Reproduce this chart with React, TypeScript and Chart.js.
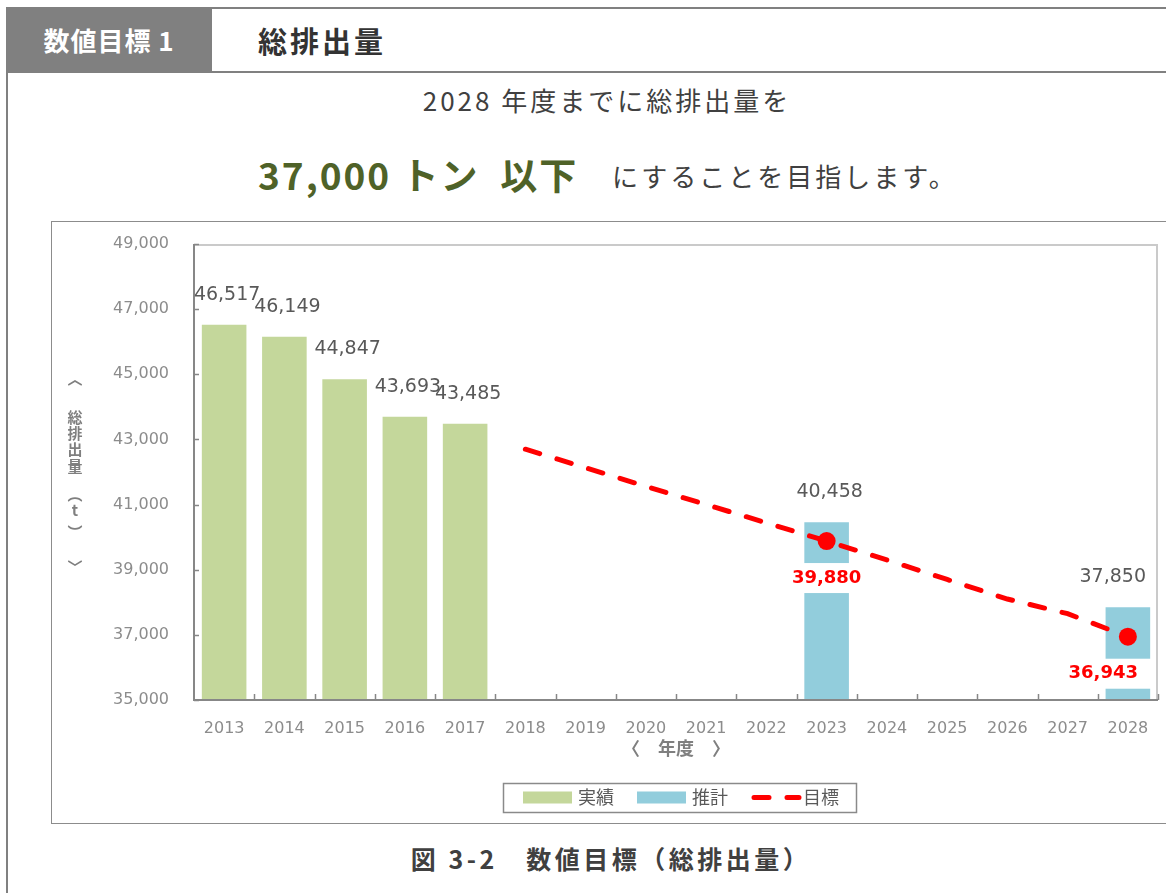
import React, { useEffect, useRef } from "react";
import { Chart, registerables } from "chart.js";

Chart.register(...registerables);

// ---- data ----
const YEARS = ["2013", "2014", "2015", "2016", "2017", "2018", "2019", "2020", "2021", "2022", "2023", "2024", "2025", "2026", "2027", "2028"];
const ACTUAL = [46517, 46149, 44847, 43693, 43485, null, null, null, null, null, null, null, null, null, null, null];
const ESTIMATE = [null, null, null, null, null, null, null, null, null, null, 40458, null, null, null, null, 37850];
const TARGET = [null, null, null, null, null, 42700, 42130, 41560, 41000, 40440, 39880, 39300, 38700, 38100, 37650, 36943];
const TARGET_MARKED_YEARS = ["2023", "2028"];
const SERIES_NAMES = ["実績", "推計", "目標"];
const Y_MIN = 35000;
const Y_MAX = 49000;
const Y_STEP = 2000;
const X_TITLE = "〈　年度　〉";
const Y_TITLE_CHARS = ["︿", "総", "排", "出", "量", "︵", "t", "︶", "﹀"];

const GREEN = "#c4d79b";
const BLUE = "#92cddc";
const RED = "#ff0000";
const AXIS_GRAY = "#8c8c8c";
const LABEL_GRAY = "#595959";
const NUM_FONT = '"DejaVu Sans", Verdana, sans-serif';
const JP_FONT = '"Noto Sans CJK JP", "Noto Sans", sans-serif';

const fmt = (v: number) => v.toLocaleString("en-US");

const decorPlugin = {
  id: "decor",
  beforeDatasetsDraw(chart: any) {
    const { ctx, chartArea: a } = chart;
    ctx.save();
    ctx.strokeStyle = "#cacaca";
    ctx.lineWidth = 2;
    ctx.beginPath();
    ctx.moveTo(a.left, a.top + 1);
    ctx.lineTo(a.right - 1, a.top + 1);
    ctx.lineTo(a.right - 1, a.bottom);
    ctx.stroke();
    ctx.restore();
  },
  afterDatasetsDraw(chart: any) {
    const { ctx, chartArea: a, scales } = chart;
    const x = scales.x;
    const y = scales.y;
    ctx.save();
    // axis lines
    ctx.strokeStyle = "#878787";
    ctx.lineWidth = 2;
    ctx.beginPath();
    ctx.moveTo(a.left, a.top);
    ctx.lineTo(a.left, a.bottom);
    ctx.lineTo(a.right, a.bottom);
    ctx.stroke();
    // inner tick marks
    ctx.lineWidth = 1.5;
    for (let v = Y_MIN; v <= Y_MAX; v += Y_STEP) {
      const py = Math.round(y.getPixelForValue(v)) + 0.5;
      ctx.beginPath();
      ctx.moveTo(a.left, py);
      ctx.lineTo(a.left + 5, py);
      ctx.stroke();
    }
    const w = (a.right - a.left) / YEARS.length;
    for (let i = 1; i <= YEARS.length; i++) {
      const px = Math.round(x.getPixelForValue(i - 1) + w / 2) + 0.5;
      ctx.beginPath();
      ctx.moveTo(px, a.bottom);
      ctx.lineTo(px, a.bottom - 6);
      ctx.stroke();
    }

    // value labels for bars
    ctx.font = `19px ${NUM_FONT}`;
    ctx.fillStyle = LABEL_GRAY;
    ctx.textAlign = "center";
    ctx.textBaseline = "middle";
    [1, 2].forEach((di) => {
      const meta = chart.getDatasetMeta(di);
      const data = chart.data.datasets[di].data;
      meta.data.forEach((el: any, i: number) => {
        const v = data[i];
        if (v == null) return;
        const t = fmt(v);
        const tw = ctx.measureText(t).width;
        const cx = Math.min(el.x + 3, a.right - tw / 2 - 12);
        ctx.fillText(t, cx, el.y - 30);
      });
    });

    // target labels (red, white backdrop)
    const lineMeta = chart.getDatasetMeta(0);
    const estMeta = chart.getDatasetMeta(2);
    ctx.font = `bold 18px ${NUM_FONT}`;
    lineMeta.data.forEach((el: any, i: number) => {
      if (!TARGET_MARKED_YEARS.includes(YEARS[i])) return;
      const v = TARGET[i];
      if (v == null) return;
      const t = fmt(v);
      const tw = ctx.measureText(t).width;
      const cx = Math.min(el.x, a.right - tw / 2 - 20);
      const cy = el.y + 37;
      const bar = estMeta.data[i];
      let l = cx - tw / 2 - 3;
      let r = cx + tw / 2 + 3;
      if (bar) {
        l = Math.min(l, bar.x - bar.width / 2 - 1);
        r = Math.max(r, bar.x + bar.width / 2 + 1);
      }
      ctx.fillStyle = "#ffffff";
      ctx.fillRect(l, cy - 15, r - l, 30);
      ctx.fillStyle = RED;
      ctx.fillText(t, cx, cy);
    });
    ctx.restore();
  },
  afterDraw(chart: any) {
    const { ctx, chartArea: a } = chart;
    ctx.save();
    // x axis title
    ctx.fillStyle = "#7f7f7f";
    ctx.font = `bold 18px ${JP_FONT}`;
    ctx.textAlign = "center";
    ctx.textBaseline = "middle";
    ctx.fillText(X_TITLE, (a.left + a.right) / 2, a.bottom + 48);

    // y axis title (vertical)
    const cyMid = (a.top + a.bottom) / 2;
    const offs = [-94, -55, -39, -23, -6, 22, 38, 60, 95];
    ctx.font = `bold 15px ${JP_FONT}`;
    Y_TITLE_CHARS.forEach((c, i) => {
      ctx.fillText(c, 23, cyMid + offs[i]);
    });

    // legend
    const bx = 451, by = 561, bw = 353, bh = 29;
    ctx.strokeStyle = "#8a8a8a";
    ctx.lineWidth = 1.5;
    ctx.strokeRect(bx + 0.5, by + 0.5, bw, bh);
    ctx.font = `18px ${JP_FONT}`;
    ctx.textAlign = "left";
    ctx.fillStyle = LABEL_GRAY;
    const my = by + bh / 2;
    let cx = bx + 20;
    const ds = chart.data.datasets;
    [1, 2, 0].forEach((di) => {
      const d = ds[di];
      if (d.type === "line") {
        ctx.strokeStyle = d.borderColor;
        ctx.lineWidth = 5;
        ctx.lineCap = "round";
        ctx.setLineDash([15, 18]);
        ctx.beginPath();
        ctx.moveTo(cx + 3, my);
        ctx.lineTo(cx + 48, my);
        ctx.stroke();
        ctx.setLineDash([]);
        cx += 52;
      } else {
        ctx.fillStyle = d.backgroundColor;
        ctx.fillRect(cx, my - 6, 49, 12);
        cx += 55;
      }
      ctx.fillStyle = LABEL_GRAY;
      ctx.fillText(d.label, cx, my);
      cx += ctx.measureText(d.label).width + 23;
    });
    ctx.restore();
  },
};

function ChartBox() {
  const ref = useRef<HTMLCanvasElement | null>(null);
  useEffect(() => {
    if (!ref.current) return;
    const chart = new Chart(ref.current, {
      type: "bar",
      data: {
        labels: YEARS,
        datasets: [
          {
            type: "line",
            label: SERIES_NAMES[2],
            data: TARGET,
            borderColor: RED,
            backgroundColor: RED,
            borderWidth: 5,
            borderDash: [15, 18],
            borderCapStyle: "round",
            tension: 0,
            pointRadius: (c: any) => (TARGET_MARKED_YEARS.includes(YEARS[c.dataIndex]) ? 9 : 0),
            pointBackgroundColor: RED,
            pointBorderWidth: 0,
            order: 0,
          } as any,
          {
            type: "bar",
            label: SERIES_NAMES[0],
            data: ACTUAL,
            backgroundColor: GREEN,
            barPercentage: 0.74,
            categoryPercentage: 1,
            grouped: false,
            order: 1,
          } as any,
          {
            type: "bar",
            label: SERIES_NAMES[1],
            data: ESTIMATE,
            backgroundColor: BLUE,
            barPercentage: 0.74,
            categoryPercentage: 1,
            grouped: false,
            order: 1,
          } as any,
        ],
      },
      options: {
        responsive: false,
        animation: false,
        events: [],
        layout: { autoPadding: false, padding: { top: 22, right: 8, left: 0, bottom: 0 } },
        plugins: {
          legend: { display: false },
          tooltip: { enabled: false },
          title: { display: false },
        },
        scales: {
          x: {
            grid: { display: false, drawTicks: false },
            border: { display: false },
            ticks: {
              color: AXIS_GRAY,
              font: { family: NUM_FONT, size: 16 },
              padding: 19,
              maxRotation: 0,
              autoSkip: false,
            },
            afterFit: (s: any) => {
              s.height = 123;
              s.paddingLeft = 0;
              s.paddingRight = 0;
            },
          },
          y: {
            min: Y_MIN,
            max: Y_MAX,
            grid: { display: false, drawTicks: false },
            border: { display: false },
            ticks: {
              stepSize: Y_STEP,
              color: AXIS_GRAY,
              font: { family: NUM_FONT, size: 16 },
              padding: 25,
              callback: (v: any) => fmt(Number(v)),
            },
            afterFit: (s: any) => {
              s.width = 142;
              s.paddingTop = 0;
              s.paddingBottom = 0;
            },
          },
        },
      } as any,
      plugins: [decorPlugin],
    });
    return () => chart.destroy();
  }, []);
  return <canvas ref={ref} width={1114} height={601} style={{ position: "absolute", left: 52, top: 222 }} />;
}

const abs = (o: any) => ({ position: "absolute" as const, whiteSpace: "pre" as const, ...o });

export default function App() {
  return (
    <div style={{ position: "absolute", left: 0, top: 0, width: 1166, height: 893, overflow: "hidden", background: "#fff", fontFamily: JP_FONT }}>
      {/* frame lines */}
      <div style={abs({ left: 6, top: 7, width: 1160, height: 2, background: "#808080" })} />
      <div style={abs({ left: 6, top: 8, width: 206, height: 65, background: "#808080" })} />
      <div style={abs({ left: 212, top: 71, width: 954, height: 2, background: "#808080" })} />
      <div style={abs({ left: 6, top: 8, width: 2, height: 885, background: "#808080" })} />
      {/* header texts */}
      <div style={abs({ left: 6, top: 20, width: 206, height: 40, lineHeight: "40px", textAlign: "center", color: "#fff", fontWeight: 700, fontSize: 26, letterSpacing: 1 })}>数値目標 1</div>
      <div style={abs({ left: 258, top: 20, height: 40, lineHeight: "40px", color: "#333333", fontWeight: 700, fontSize: 29, letterSpacing: 3 })}>総排出量</div>
      {/* statement */}
      <div style={abs({ left: 607, top: 80, height: 40, lineHeight: "40px", transform: "translateX(-50%)", color: "#404040", fontSize: 26, letterSpacing: 3 })}>2028 年度までに総排出量を</div>
      <div style={abs({ left: 258, top: 150, height: 48, lineHeight: "48px", color: "#4f6228", fontWeight: 700, fontSize: 37, letterSpacing: 2 })}>37,000 トン  以下</div>
      <div style={abs({ left: 612, top: 156, height: 40, lineHeight: "40px", color: "#404040", fontSize: 26, letterSpacing: 3 })}>にすることを目指します。</div>
      {/* chart box */}
      <div style={abs({ left: 51, top: 221, width: 1200, height: 601, border: "1.5px solid #8c8c8c", boxSizing: "content-box" })} />
      <ChartBox />
      {/* caption */}
      <div style={abs({ left: 611, top: 840, height: 36, lineHeight: "36px", transform: "translateX(-50%)", color: "#404040", fontWeight: 700, fontSize: 25, letterSpacing: 3.5 })}>図 3-2　数値目標（総排出量）</div>
    </div>
  );
}
